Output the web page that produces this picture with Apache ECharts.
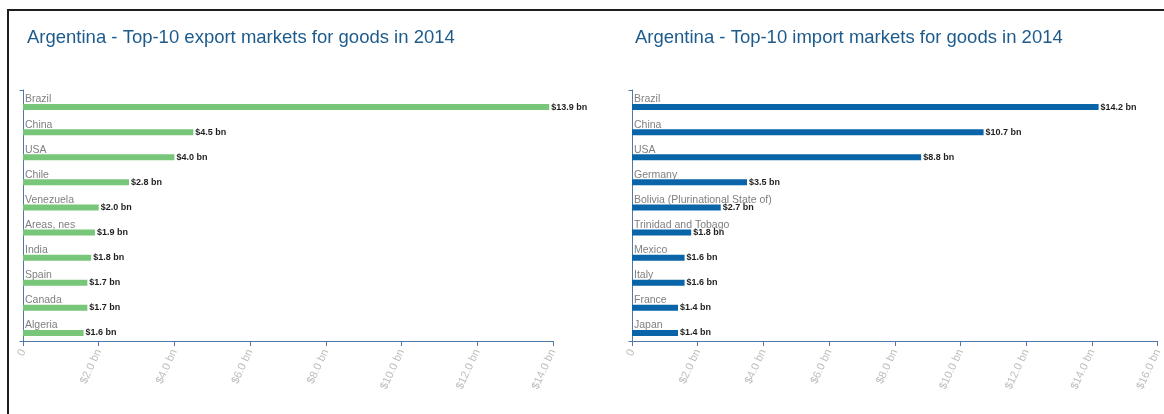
<!DOCTYPE html>
<html>
<head>
<meta charset="utf-8">
<title>Argentina - Top-10 markets for goods in 2014</title>
<script src="https://cdn.jsdelivr.net/npm/echarts@6/dist/echarts.min.js"></script>
<style>
  html, body { margin: 0; padding: 0; background: #fff; }
  #wrap { position: relative; width: 1164px; height: 414px; overflow: hidden; }
  #frame { position: absolute; left: 7px; top: 9px; width: 1200px; height: 500px;
           border-left: 2px solid #1e1e1e; border-top: 2px solid #1e1e1e; }
  #chart { position: absolute; left: 0; top: 0; width: 1164px; height: 414px; }
</style>
</head>
<body>
<div id="wrap">
  <div id="frame"></div>
  <div id="chart"></div>
</div>
<script>
// Export partners (left panel)
const exportCountries = ['Brazil', 'China', 'USA', 'Chile', 'Venezuela', 'Areas, nes', 'India', 'Spain', 'Canada', 'Algeria'];
const exportValues = [13.9, 4.5, 4.0, 2.8, 2.0, 1.9, 1.8, 1.7, 1.7, 1.6];

// Import partners (right panel)
const importCountries = ['Brazil', 'China', 'USA', 'Germany', 'Bolivia (Plurinational State of)', 'Trinidad and Tobago', 'Mexico', 'Italy', 'France', 'Japan'];
const importValues = [14.2, 10.7, 8.8, 3.5, 2.7, 1.8, 1.6, 1.6, 1.4, 1.4];

// Value-axis ranges (US$ billions)
const exportAxisMax = 14;
const importAxisMax = 16;
const axisStep = 2;

const titles = [
  'Argentina - Top-10 export markets for goods in 2014',
  'Argentina - Top-10 import markets for goods in 2014'
];

const AXIS_COLOR = '#4f7aa6';
const SANS = '"Liberation Sans Narrow", "Arial Narrow", "Liberation Sans", Arial, sans-serif';

const money = v => '$' + Number(v).toFixed(1) + ' bn';

const GRID_TOP = 90;
const GRID_HEIGHT = 251;

const panels = [
  { left: 23, width: 530, cats: exportCountries, vals: exportValues, max: exportAxisMax, color: '#78c679', titleX: 22 },
  { left: 632, width: 529, cats: importCountries, vals: importValues, max: importAxisMax, color: '#0a64a8', titleX: 630 }
];

const option = {
  animation: false,
  backgroundColor: 'transparent',
  title: panels.map((p, i) => ({
    text: titles[i],
    left: p.titleX,
    top: 23,
    textStyle: { color: '#1d5b8c', fontFamily: SANS, fontSize: 18.5, fontWeight: 'normal' }
  })),
  grid: panels.map(p => ({ left: p.left, width: p.width, top: GRID_TOP, height: GRID_HEIGHT })),
  xAxis: panels.map((p, i) => ({
    type: 'value',
    gridIndex: i,
    min: 0,
    max: p.max,
    interval: axisStep,
    splitLine: { show: false },
    axisLine: { show: true, lineStyle: { color: AXIS_COLOR, width: 1 } },
    axisTick: { show: true, length: 5, lineStyle: { color: AXIS_COLOR } },
    axisLabel: {
      rotate: 65,
      margin: 9,
      color: '#bdbdbd',
      fontFamily: SANS,
      fontSize: 11,
      showMinLabel: true,
      showMaxLabel: true,
      formatter: v => (v === 0 ? '0' : money(v))
    }
  })),
  yAxis: panels.map((p, i) => ({
    type: 'category',
    gridIndex: i,
    inverse: true,
    data: p.cats,
    axisLine: { show: true, lineStyle: { color: AXIS_COLOR, width: 1 } },
    axisTick: { show: false },
    axisLabel: { show: false }
  })),
  graphic: [],
  series: []
};

panels.forEach((p, i) => {
  // zero-length row that carries the partner name in the upper part of each band
  option.series.push({
    type: 'bar',
    xAxisIndex: i,
    yAxisIndex: i,
    barWidth: 9,
    barGap: '0%',
    silent: true,
    itemStyle: { color: 'rgba(0,0,0,0)' },
    label: {
      show: true,
      position: 'right',
      distance: 2,
      color: '#7f7f7f',
      fontFamily: SANS,
      fontSize: 10.5,
      formatter: d => d.name
    },
    data: p.cats.map(() => 0)
  });
  // the trade value bars
  option.series.push({
    type: 'bar',
    xAxisIndex: i,
    yAxisIndex: i,
    barWidth: 6,
    barGap: '0%',
    itemStyle: { color: p.color },
    label: {
      show: true,
      position: 'right',
      distance: 2,
      color: '#1f1f1f',
      fontFamily: SANS,
      fontWeight: 'bold',
      fontSize: 9,
      formatter: d => money(d.value)
    },
    data: p.vals
  });
  // small outer ticks at both ends of the category axis line
  [GRID_TOP, GRID_TOP + GRID_HEIGHT].forEach(y => {
    option.graphic.push({
      type: 'line',
      silent: true,
      shape: { x1: p.left - 3.5, y1: y + 0.5, x2: p.left + 0.5, y2: y + 0.5 },
      style: { stroke: AXIS_COLOR, lineWidth: 1 }
    });
  });
});

const chart = echarts.init(document.getElementById('chart'), null, { renderer: 'canvas' });
chart.setOption(option);
</script>
</body>
</html>
